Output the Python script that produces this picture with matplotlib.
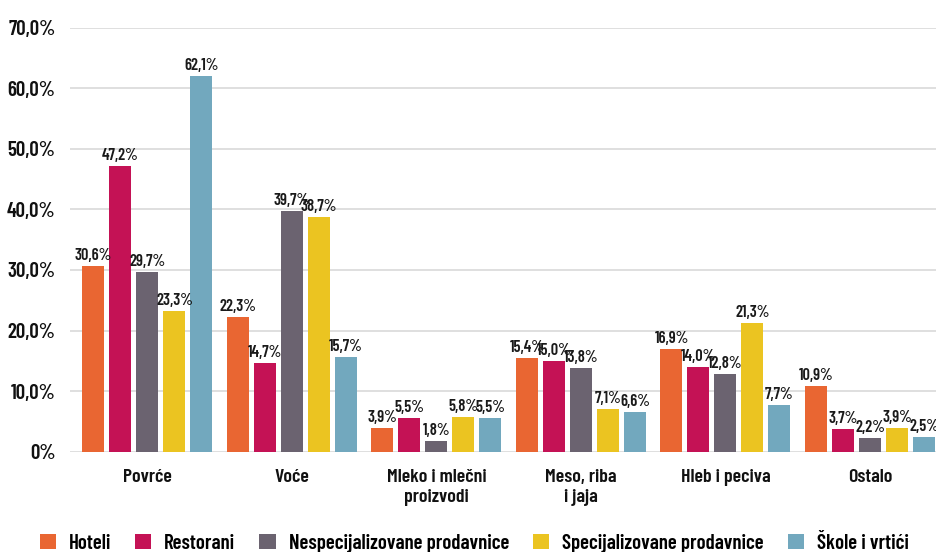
import matplotlib
matplotlib.use("Agg")
import matplotlib.pyplot as plt
from matplotlib.patches import Patch
import numpy as np

plt.rcParams['font.family'] = ['Barlow Condensed', 'DejaVu Sans']
plt.rcParams['font.weight'] = 600

categories = ["Povrće", "Voće", "Mleko i mlečni\nproizvodi", "Meso, riba\ni jaja", "Hleb i peciva", "Ostalo"]
series = ["Hoteli", "Restorani", "Nespecijalizovane prodavnice", "Specijalizovane prodavnice", "Škole i vrtići"]
hoteli = [30.6, 22.3, 3.9, 15.4, 16.9, 10.9]
restorani = [47.2, 14.7, 5.5, 15.0, 14.0, 3.7]
nespec = [29.7, 39.7, 1.8, 13.8, 12.8, 2.2]
spec = [23.3, 38.7, 5.8, 7.1, 21.3, 3.9]
skole = [62.1, 15.7, 5.5, 6.6, 7.7, 2.5]
values = [hoteli, restorani, nespec, spec, skole]
colors = ["#E96632", "#C41255", "#6B6370", "#EBC421", "#72A8BE"]

fig = plt.figure(figsize=(9.37, 5.52), dpi=100)
ax = fig.add_axes([70 / 937, 0.1817, 1 - 70 / 937, 0.7681])

x = np.arange(len(categories))
step = 27 / 144.5
bw = 22 / 144.5
for i, (vals, col) in enumerate(zip(values, colors)):
    pos = x + (i - 2) * step
    ax.bar(pos, vals, width=bw, color=col, zorder=3)
    for p, v in zip(pos, vals):
        ax.text(p, v + 0.5, f"{v:.1f}%".replace(".", ","), ha="center", va="bottom",
                fontsize=11.8, color="#1a1a1a", zorder=4)

ax.set_xlim(-0.536, 5.464)
ax.set_ylim(0, 70)
ax.set_yticks(np.arange(0, 71, 10))
ax.set_yticklabels(["0%"] + [f"{v},0%" for v in range(10, 71, 10)])
ax.yaxis.grid(True, color="#dcdcdc", linewidth=1.3, zorder=0)
ax.set_xticks(x)
ax.set_xticklabels(categories, fontsize=14.3, linespacing=1.2)
for lab in ax.get_yticklabels():
    lab.set_fontsize(15)
ax.tick_params(axis="both", length=0, colors="#111111")
ax.tick_params(axis="y", pad=10.5)
ax.tick_params(axis="x", pad=12.5)
for s in ax.spines.values():
    s.set_visible(False)

handles = [Patch(facecolor=c, label=s) for c, s in zip(colors, series)]
fig.legend(handles=handles, loc="lower center", bbox_to_anchor=(0.506, -0.035), ncol=5, frameon=False,
           prop={"size": 15}, handlelength=0.78, handleheight=0.72,
           handletextpad=0.62, columnspacing=1.15)

fig.savefig("out.png", dpi=100)
